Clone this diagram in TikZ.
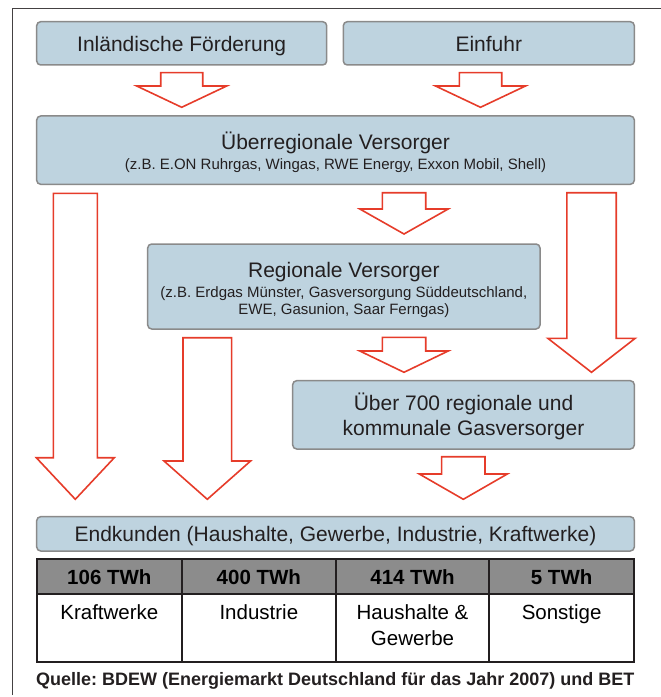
\documentclass[tikz,border=0pt]{standalone}
\usepackage{fontspec}
\setmainfont{Liberation Sans}
\frenchspacing
\definecolor{boxfill}{HTML}{BED3DF}
\definecolor{boxline}{HTML}{8A8A8A}
\definecolor{txt}{HTML}{231F20}
\definecolor{arrred}{HTML}{E63C2A}
\definecolor{hdrgray}{HTML}{8C8C8C}
\newcommand\blockarr[6]{%
  \draw[redarr] (#1-#3,#2) -- (#1+#3,#2) -- (#1+#3,#5) -- (#1+#4,#5) -- (#1,#6) -- (#1-#4,#5) -- (#1-#3,#5) -- cycle;}
\newcommand\fs[1]{\fontsize{#1bp}{#1bp}\selectfont}
\begin{document}
\begin{tikzpicture}[x=1bp,y=-1bp,
  box/.style={draw=boxline, fill=boxfill, line width=1.5bp, rounded corners=4bp, inner sep=0pt},
  redarr/.style={draw=arrred, fill=white, line width=1.6bp, line join=miter},
  lbl/.style={text=txt, anchor=base, inner sep=0pt, font=\fs{21}},
  sub/.style={text=txt, anchor=base, inner sep=0pt, font=\fs{15}},
  tbl/.style={draw=txt, line width=2bp},
  cell/.style={text=black, anchor=base, inner sep=0pt, font=\fs{20.5}},
  hcell/.style={text=black, anchor=base, inner sep=0pt, font=\bfseries\fs{20.5}}]
\useasboundingbox (0,0) rectangle (661,697);
% frame
\draw[txt!85, line width=1.2bp] (12.5,695) -- (12.5,8.5) -- (661,8.5);
% boxes
\node[box, minimum width=290bp, minimum height=43.3bp] (inl) at (181.7,43.35) {};
\node[box, minimum width=291bp, minimum height=43.3bp] (ein) at (488.8,43.35) {};
\node[box, minimum width=597.6bp, minimum height=68.3bp] (ueb) at (335.5,150.15) {};
\node[box, minimum width=392.3bp, minimum height=85bp] (reg) at (343.85,286.5) {};
\node[box, minimum width=341.6bp, minimum height=68.3bp] (k700) at (463.5,414.85) {};
\node[box, minimum width=597.6bp, minimum height=34.3bp] (end) at (335.5,533.85) {};
% box texts
\node[lbl] (tinl) at (181.7,51.7) {Inländische Förderung};
\node[lbl] (tein) at (488.8,51.7) {Einfuhr};
\node[lbl] (tueb) at (335.5,149) {Überregionale Versorger};
\node[sub] (sueb) at (335.5,169) {(z.B. E.ON Ruhrgas, Wingas, RWE Energy, Exxon Mobil, Shell)};
\node[lbl] (treg) at (343.85,277.3) {Regionale Versorger};
\node[sub] (sreg1) at (343.85,297.3) {(z.B. Erdgas Münster, Gasversorgung Süddeutschland,};
\node[sub] (sreg2) at (343.85,314.3) {EWE, Gasunion, Saar Ferngas)};
\node[lbl] (t7a) at (463.5,410) {Über 700 regionale und};
\node[lbl] (t7b) at (463.5,435.7) {kommunale Gasversorger};
\node[lbl] (tend) at (335.5,541.7) {Endkunden (Haushalte, Gewerbe, Industrie, Kraftwerke)};
% block arrows
\blockarr{181.7}{72.7}{21}{45}{86}{107.3}
\blockarr{480.5}{72.7}{21.2}{45}{86}{107.3}
\blockarr{404}{192.7}{21.7}{44.2}{209}{234}
\blockarr{591.5}{192.7}{24.7}{43.7}{338.3}{372.3}
\blockarr{404}{337.3}{21.7}{44.2}{351}{372.3}
\blockarr{75.3}{193.3}{22}{39}{457.7}{499.3}
\blockarr{207.3}{337.7}{24.3}{43.3}{461}{499.3}
\blockarr{463.3}{456.7}{21.7}{44}{474}{499.3}
% table
\fill[hdrgray] (36.7,559.3) rectangle (634,594);
\draw[tbl] (36.7,559.3) rectangle (634,661.7);
\draw[tbl] (36.7,594) -- (634,594);
\draw[tbl] (182,559.3) -- (182,661.7);
\draw[tbl] (335.7,559.3) -- (335.7,661.7);
\draw[tbl] (489.3,559.3) -- (489.3,661.7);
\node[hcell] (h1) at (109.35,584) {106 TWh};
\node[hcell] (h2) at (258.85,584) {400 TWh};
\node[hcell] (h3) at (412.5,584) {414 TWh};
\node[hcell] (h4) at (561.65,584) {5 TWh};
\node[cell] (c1) at (109.35,619) {Kraftwerke};
\node[cell] (c2) at (258.85,619) {Industrie};
\node[cell] (c3a) at (412.5,619) {Haushalte \&};
\node[cell] (c3b) at (412.5,645.7) {Gewerbe};
\node[cell] (c4) at (561.65,619) {Sonstige};
% source
\node[text=txt, anchor=base west, inner sep=0pt, font=\bfseries\fs{18}] (src) at (36,685.7) {Quelle: BDEW (Energiemarkt Deutschland für das Jahr 2007) und BET};
\end{tikzpicture}
\end{document}
